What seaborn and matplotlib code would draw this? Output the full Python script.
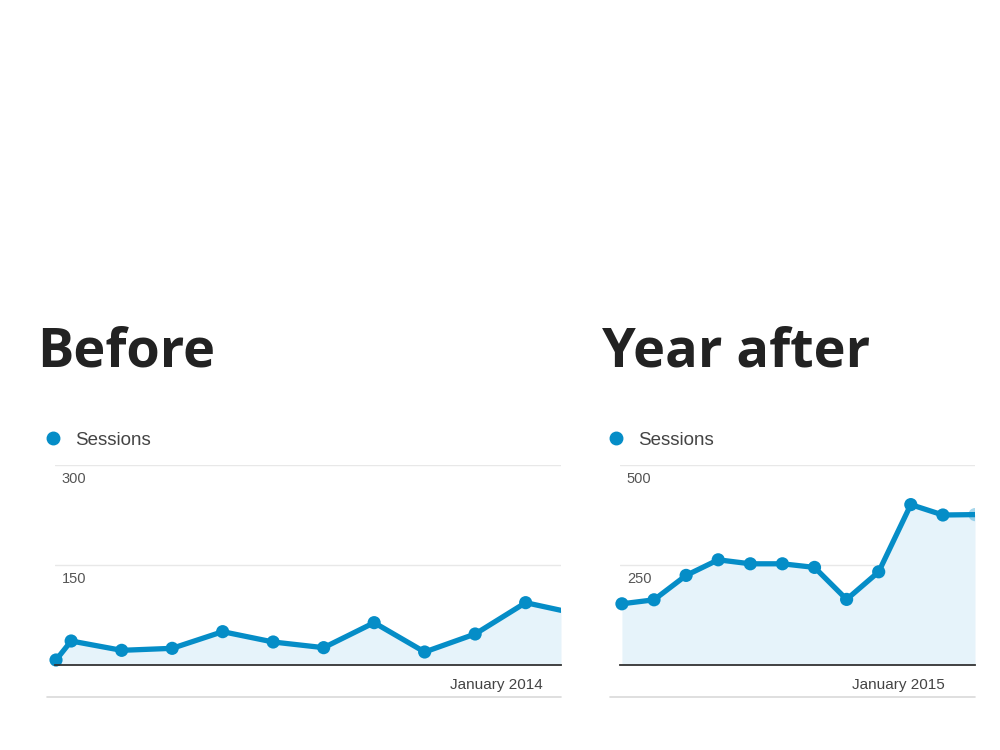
import numpy as np
import pandas as pd
import matplotlib
matplotlib.use("Agg")
import matplotlib.pyplot as plt
import seaborn as sns
from matplotlib.lines import Line2D

# Sessions
x_before = [-0.3, 0, 1, 2, 3, 4, 5, 6, 7, 8, 9, 9.7]
sessions_before = [7.5, 36, 22, 25, 50, 34.5, 26, 63.5, 19.5, 46.5, 93.5, 82]
x_after = [0, 1, 2, 3, 4, 5, 6, 7, 8, 9, 10, 11]
sessions_after = [153, 163, 224, 263, 253, 253, 244, 164, 233, 401, 375, 376]

titles = ["Before", "Year after"]
yticks_before = [150, 300]
yticks_after = [250, 500]
month_before = (8.43, "January 2014")
month_after = (8.6, "January 2015")

BLUE = "#058DC7"
FILL = "#E6F3FA"

sns.set_theme(style="white")
plt.rcParams['font.family'] = ['Liberation Sans', 'DejaVu Sans']

fig = plt.figure(figsize=(10, 7.5), dpi=100)

panels = [
    # axes rect (fig coords), x, y, ylim, ticks, month label, xlim, faded edge dot
    ([0.055, 1 - 665 / 750, 0.506, 200 / 750], x_before, sessions_before,
     300, yticks_before, month_before, (-0.32, 9.7), False),
    ([0.620, 1 - 665 / 750, 0.355, 200 / 750], x_after, sessions_after,
     500, yticks_after, month_after, (-0.06, 11), True),
]

for i, (rect, xs, ys, ymax, yt, month, xlim, edge_dot) in enumerate(panels):
    ax = fig.add_axes(rect)
    df = pd.DataFrame({"x": xs, "Sessions": ys})
    ax.fill_between(df["x"], 0, df["Sessions"], color=FILL, lw=0, zorder=1)
    sns.lineplot(data=df, x="x", y="Sessions", ax=ax, color=BLUE, lw=3.8,
                 zorder=3, legend=False)
    # markers on the inner points; the edge point fades out
    inner = df.iloc[:-1]
    sns.scatterplot(data=inner, x="x", y="Sessions", ax=ax, color=BLUE, s=90,
                    edgecolor="none", zorder=4, clip_on=False, legend=False)
    if edge_dot:
        sns.scatterplot(data=df.iloc[-1:], x="x", y="Sessions", ax=ax, color=BLUE,
                        s=90, alpha=0.35, edgecolor="none", zorder=4, legend=False)
    ax.set_xlim(*xlim)
    ax.set_ylim(0, ymax)
    for v in yt:
        ax.axhline(v, color="#E8E8E8", lw=1, zorder=0)
        ax.annotate(str(v), xy=(0, v), xycoords=("axes fraction", "data"),
                    xytext=(5, -5), textcoords="offset points", ha="left",
                    va="top", fontsize=10.5, color="#555555")
    ax.set_yticks([])
    ax.set_xticks([month[0]])
    ax.set_xticklabels([month[1]])
    ax.tick_params(axis="x", length=0, pad=9, labelsize=11, labelcolor="#444444")
    ax.set_xlabel("")
    ax.set_ylabel("")
    for s in ["top", "right", "left"]:
        ax.spines[s].set_visible(False)
    ax.spines["bottom"].set_color("#333333")
    ax.spines["bottom"].set_linewidth(1.3)
    ax.spines["bottom"].set_zorder(5)
    ax.set_facecolor("white")

    # legend
    handle = Line2D([], [], marker="o", color=BLUE, lw=0, markersize=9)
    leg_x = 0.045 if i == 0 else 0.608
    ax.legend([handle], ["Sessions"], loc="center left",
              bbox_to_anchor=(leg_x, 1 - 440 / 750), bbox_transform=fig.transFigure,
              frameon=False, handlelength=0.8, handletextpad=0.8, borderpad=0,
              borderaxespad=0, prop={"size": 13.5})
    for t in ax.get_legend().get_texts():
        t.set_color("#444444")

# light rule beneath each chart
fig.add_artist(Line2D([0.047, 0.561], [1 - 697 / 750] * 2, color="#D9D9D9", lw=1.2))
fig.add_artist(Line2D([0.610, 0.975], [1 - 697 / 750] * 2, color="#D9D9D9", lw=1.2))

# headings
fig.text(0.037, 1 - 352 / 750, titles[0], fontsize=39, fontweight="bold",
         family=["Open Sans", "DejaVu Sans"], color="#222222", va="center")
fig.text(0.602, 1 - 352 / 750, titles[1], fontsize=39, fontweight="bold",
         family=["Open Sans", "DejaVu Sans"], color="#222222", va="center")

fig.savefig("out.png", dpi=100, facecolor="white")
